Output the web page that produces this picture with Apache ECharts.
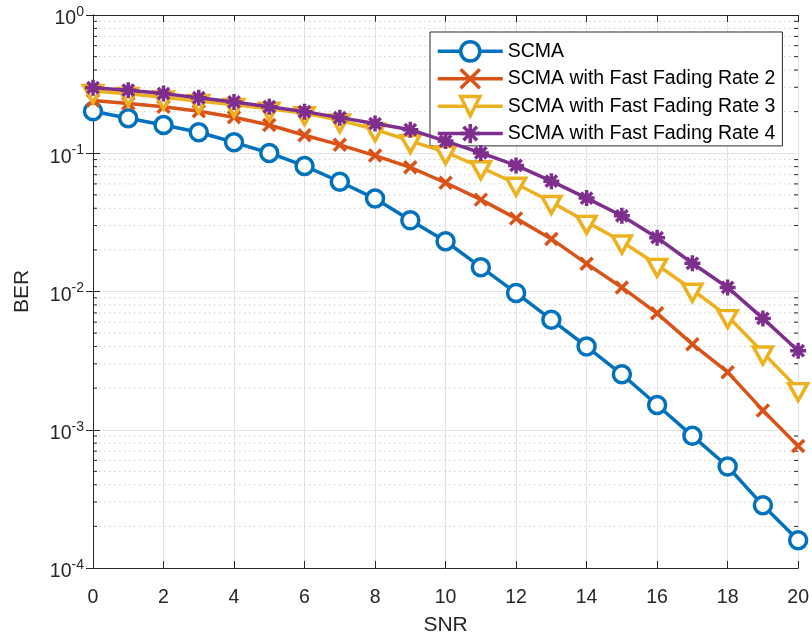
<!DOCTYPE html>
<html>
<head>
<meta charset="utf-8">
<script src="https://cdn.jsdelivr.net/npm/echarts@6/dist/echarts.min.js"></script>
<style>
html,body{margin:0;padding:0;background:#fff;}
#chart{width:812px;height:641px;}
</style>
</head>
<body>
<div id="chart"></div>
<script>
// ---- data ----
const snr = [0,1,2,3,4,5,6,7,8,9,10,11,12,13,14,15,16,17,18,19,20];
const seriesNames = ['SCMA','SCMA with Fast Fading Rate 2','SCMA with Fast Fading Rate 3','SCMA with Fast Fading Rate 4'];
const berSCMA  = [0.201,0.179,0.160,0.142,0.120,0.1005,0.081,0.0622,0.047,0.0327,0.0231,0.0150,0.00977,0.00625,0.0040,0.00252,0.00151,0.000904,0.000542,0.000284,0.000159];
const berRate2 = [0.241,0.229,0.217,0.201,0.182,0.160,0.135,0.115,0.0962,0.0791,0.0612,0.0462,0.0338,0.0240,0.0159,0.0107,0.00695,0.00416,0.00261,0.00138,0.000762];
const berRate3 = [0.282,0.269,0.254,0.239,0.224,0.210,0.195,0.173,0.149,0.1226,0.102,0.0792,0.0602,0.0444,0.0319,0.0230,0.0156,0.0103,0.00664,0.00362,0.00197];
const berRate4 = [0.298,0.286,0.270,0.252,0.235,0.217,0.200,0.181,0.164,0.148,0.1225,0.1005,0.0817,0.0628,0.0474,0.0353,0.0245,0.0160,0.0107,0.00639,0.00373];
const xTicks = [0,2,4,6,8,10,12,14,16,18,20];
const minorY = [];
[1e-4,1e-3,1e-2,1e-1].forEach(d => { for (let k = 2; k <= 9; k++) minorY.push(+(d*k).toPrecision(3)); });

const colors = ['#0072BD','#D95319','#EDB120','#7E2F8E'];
const axisColor = '#262626';
const fontFam = '"Liberation Sans", Arial, Helvetica, sans-serif';

const chart = echarts.init(document.getElementById('chart'), null, {renderer:'canvas'});

function pairs(arr){ return snr.map((x,i)=>[x,arr[i]]); }

const crossPath = 'path://M-10 -10 L10 10 M-10 10 L10 -10';
const starPath = 'path://M0 -10 L0 10 M-10 0 L10 0 M-7.07 -7.07 L7.07 7.07 M-7.07 7.07 L7.07 -7.07';
const triPath = 'path://M-10 -5.77 L10 -5.77 L0 11.55 Z';

function lineSeries(name, arr, idx, symbol, size, filled, extra){
  return Object.assign({
    name: name,
    type: 'line',
    data: pairs(arr),
    symbol: symbol,
    symbolSize: size,
    showAllSymbol: true,
    lineStyle: {color: colors[idx], width: 3.5},
    itemStyle: {color: filled ? colors[idx] : '#ffffff', borderColor: colors[idx], borderWidth: 3.5},
    emphasis: {disabled: true},
    z: 10 + idx
  }, extra || {});
}

const option = {
  backgroundColor: '#ffffff',
  animation: false,
  textStyle: {fontFamily: fontFam},
  grid: {left: 93, right: 13, top: 15, bottom: 69, containLabel: false},
  xAxis: [{
    type: 'value', min: 0, max: 20, interval: 2,
    name: 'SNR', nameLocation: 'middle', nameGap: 47,
    nameTextStyle: {fontSize: 21, color: axisColor, fontFamily: fontFam},
    axisLine: {lineStyle: {color: axisColor, width: 1}},
    axisTick: {inside: true, length: 7, lineStyle: {color: axisColor}},
    axisLabel: {fontSize: 19.5, color: axisColor, margin: 20, fontFamily: fontFam,
      formatter: v => xTicks.indexOf(v) >= 0 ? String(v) : ''},
    splitLine: {show: true, lineStyle: {color: '#e3e3e3', width: 1}}
  },{
    type: 'value', position: 'top', min: 0, max: 20, interval: 2,
    axisLine: {lineStyle: {color: axisColor, width: 1}},
    axisTick: {inside: true, length: 7, lineStyle: {color: axisColor}},
    axisLabel: {show: false},
    splitLine: {show: false}
  }],
  yAxis: [{
    type: 'log', logBase: 10, min: 1e-4, max: 1, splitNumber: 4,
    name: 'BER', nameLocation: 'middle', nameGap: 60, nameRotate: 90,
    nameTextStyle: {fontSize: 21, color: axisColor, fontFamily: fontFam},
    axisLine: {show: true, lineStyle: {color: axisColor, width: 1}},
    axisTick: {inside: true, length: 7, lineStyle: {color: axisColor}},
    axisLabel: {
      color: axisColor, margin: 9, fontFamily: fontFam,
      padding: [8, 0, 0, 0],
      formatter: v => '{b|10}{s|' + Math.round(Math.log10(v)) + '}',
      rich: {
        b: {fontSize: 19.5, color: axisColor, fontFamily: fontFam, lineHeight: 20, verticalAlign: 'bottom', padding: [6,0,0,0]},
        s: {fontSize: 14, color: axisColor, fontFamily: fontFam, lineHeight: 14, padding: [0,0,10,0], verticalAlign: 'bottom'}
      }
    },
    splitLine: {show: true, lineStyle: {color: '#e3e3e3', width: 1}}
  },{
    type: 'log', logBase: 10, min: 1e-4, max: 1, splitNumber: 4, position: 'right',
    axisLine: {show: true, lineStyle: {color: axisColor, width: 1}},
    axisTick: {inside: true, length: 7, lineStyle: {color: axisColor}},
    axisLabel: {show: false},
    splitLine: {show: false}
  }],
  legend: {
    data: seriesNames,
    orient: 'vertical',
    left: 430, top: 32,
    padding: [8, 7, 1, 6],
    itemGap: 4.7,
    itemWidth: 65, itemHeight: 24,
    backgroundColor: '#ffffff',
    borderColor: '#2b2b2b', borderWidth: 1,
    lineStyle: {width: 3.5},
    itemStyle: {borderWidth: 3.5},
    textStyle: {fontSize: 19.5, color: '#000000', fontFamily: fontFam, lineHeight: 22},
    selectedMode: false
  },
  series: [
    {
      name: 'minorGrid',
      type: 'custom',
      data: minorY.map(v => [0, v]),
      encode: {x: 0, y: 1},
      silent: true,
      z: 1,
      clip: false,
      renderItem: function(params, api){
        const v = api.value(1);
        const p0 = api.coord([0, v]);
        const p1 = api.coord([20, v]);
        return {
          type: 'group',
          children: [
            {type: 'line', shape: {x1: p0[0]+1, y1: p0[1], x2: p1[0]-1, y2: p1[1]},
             style: {stroke: '#cccccc', lineWidth: 1, lineDash: [1.5, 3.5]}},
            {type: 'line', shape: {x1: p0[0], y1: p0[1], x2: p0[0]+4, y2: p0[1]},
             style: {stroke: axisColor, lineWidth: 1}},
            {type: 'line', shape: {x1: p1[0]-4, y1: p1[1], x2: p1[0], y2: p1[1]},
             style: {stroke: axisColor, lineWidth: 1}}
          ]
        };
      }
    },
    lineSeries(seriesNames[0], berSCMA, 0, 'circle', 17, false),
    lineSeries(seriesNames[1], berRate2, 1, crossPath, 12, true),
    lineSeries(seriesNames[2], berRate3, 2, triPath, [19, 17], false, {symbolOffset: [0, 3]}),
    lineSeries(seriesNames[3], berRate4, 3, starPath, 16, true)
  ]
};
chart.setOption(option);
</script>
</body>
</html>
